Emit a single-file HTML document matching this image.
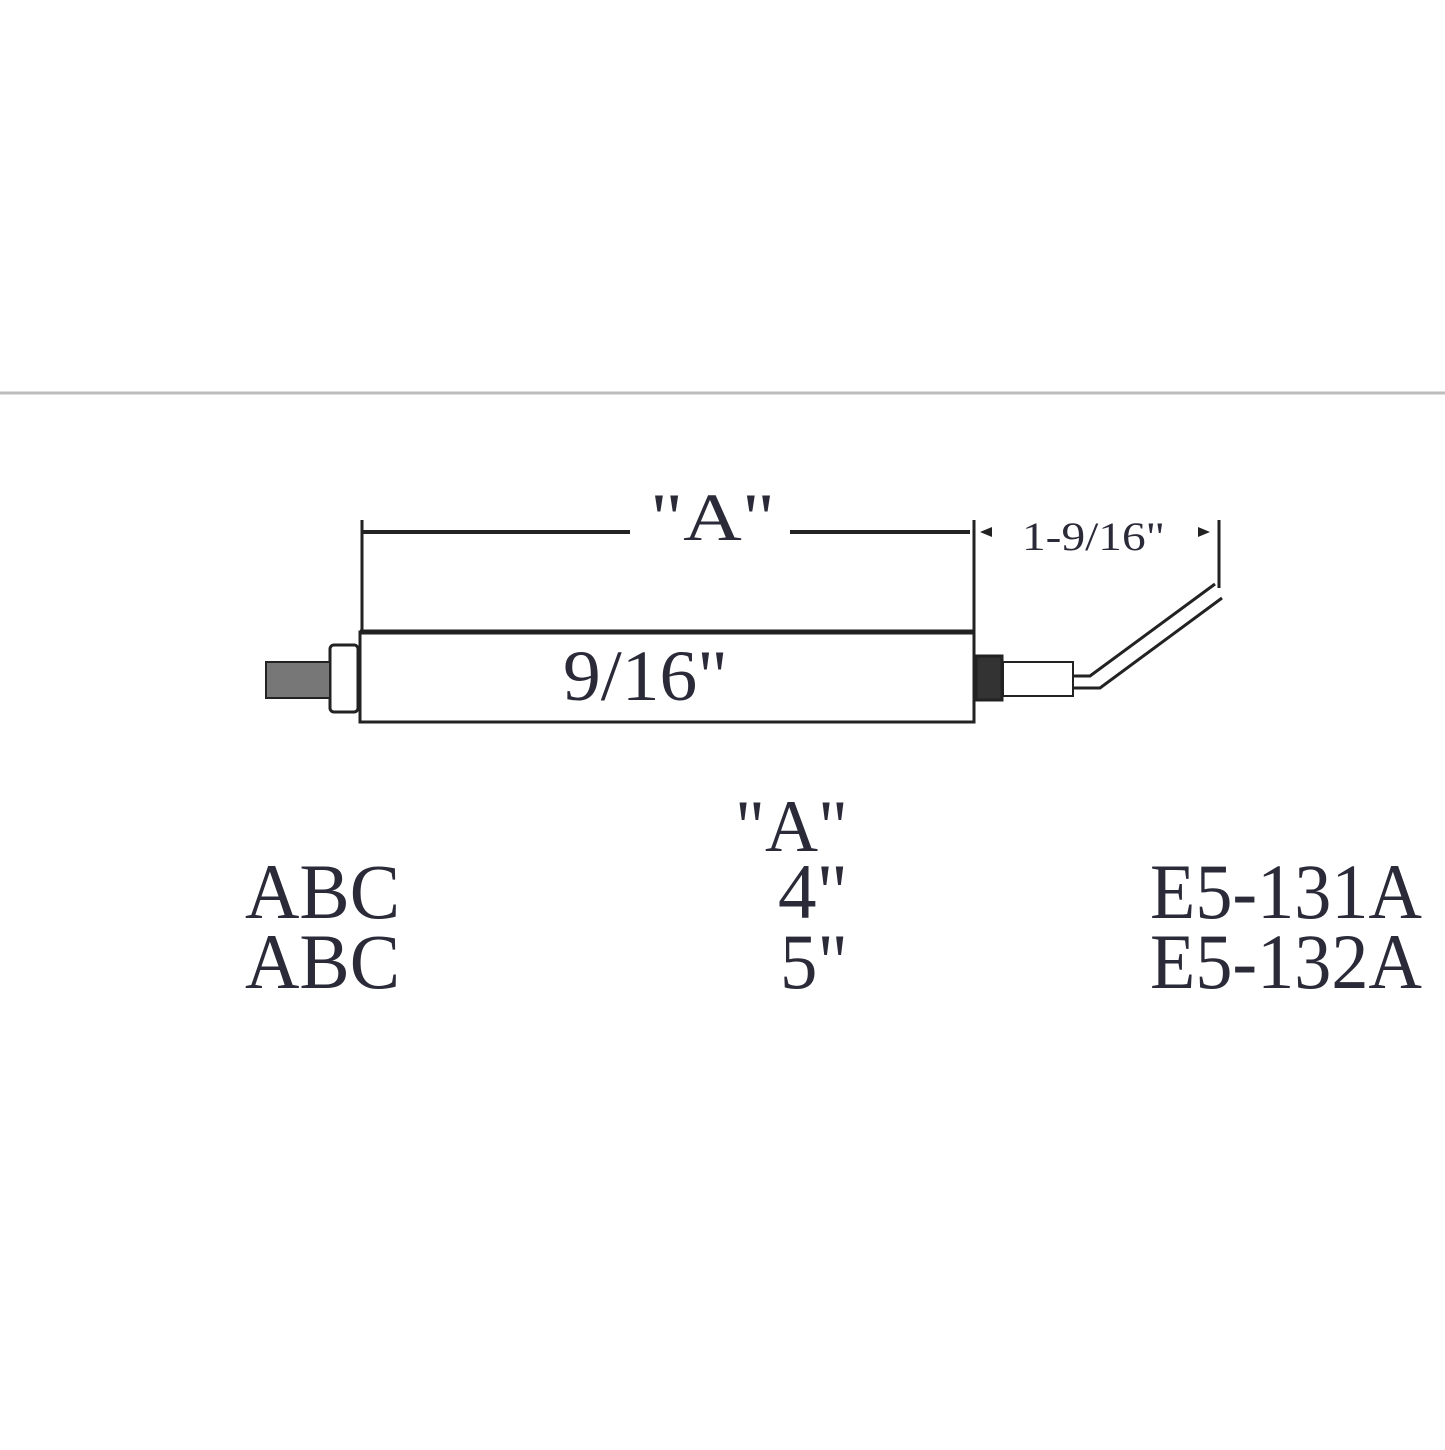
<!DOCTYPE html>
<html><head><style>html,body{margin:0;padding:0;background:#fff}</style></head>
<body>
<svg width="1445" height="1445" viewBox="0 0 1445 1445" xmlns="http://www.w3.org/2000/svg" font-family="Liberation Serif, serif" fill="#2a2a38">
<line x1="0" y1="393" x2="1445" y2="393" stroke="#bdbdbd" stroke-width="3"/>
<g stroke="#222" fill="none">
<line x1="362" y1="532" x2="630" y2="532" stroke-width="4"/>
<line x1="790" y1="532" x2="970" y2="532" stroke-width="4"/>
<line x1="362" y1="520" x2="362" y2="632" stroke-width="3"/>
<line x1="974" y1="520" x2="974" y2="660" stroke-width="3"/>
<line x1="1219" y1="520" x2="1219" y2="588" stroke-width="3"/>
<rect x="360" y="632" width="614" height="90" stroke-width="3"/>
<line x1="360" y1="632" x2="974" y2="632" stroke-width="5"/>
<rect x="330" y="645" width="28" height="67" rx="4" stroke-width="3"/>
<rect x="266" y="662" width="64" height="36" stroke-width="2" fill="#777"/>
<rect x="976" y="656" width="26" height="44" stroke-width="3" fill="#333"/>
<rect x="1003" y="662" width="70" height="34" stroke-width="2"/>
<polyline points="1073,676 1090,676 1215,584" stroke-width="3"/>
<polyline points="1073,688 1100,688 1222,598" stroke-width="3"/>
</g>
<polygon points="980,532 992,527 992,537" fill="#222"/>
<polygon points="1210,532 1198,527 1198,537" fill="#222"/>
<text x="650" y="540" font-size="68" textLength="125" lengthAdjust="spacingAndGlyphs">"A"</text>
<text x="1022" y="550" font-size="40" textLength="143" lengthAdjust="spacingAndGlyphs">1-9/16"</text>
<text x="563" y="700" font-size="72" textLength="165" lengthAdjust="spacingAndGlyphs">9/16"</text>
<text x="735" y="851" font-size="74" textLength="113" lengthAdjust="spacingAndGlyphs">"A"</text>
<text x="245" y="918" font-size="78" textLength="155" lengthAdjust="spacingAndGlyphs">ABC</text>
<text x="778" y="918" font-size="78" textLength="70" lengthAdjust="spacingAndGlyphs">4"</text>
<text x="1150" y="918" font-size="78" textLength="272" lengthAdjust="spacingAndGlyphs">E5-131A</text>
<text x="245" y="988" font-size="78" textLength="155" lengthAdjust="spacingAndGlyphs">ABC</text>
<text x="780" y="988" font-size="78" textLength="68" lengthAdjust="spacingAndGlyphs">5"</text>
<text x="1150" y="988" font-size="78" textLength="272" lengthAdjust="spacingAndGlyphs">E5-132A</text>
</svg>
</body></html>
